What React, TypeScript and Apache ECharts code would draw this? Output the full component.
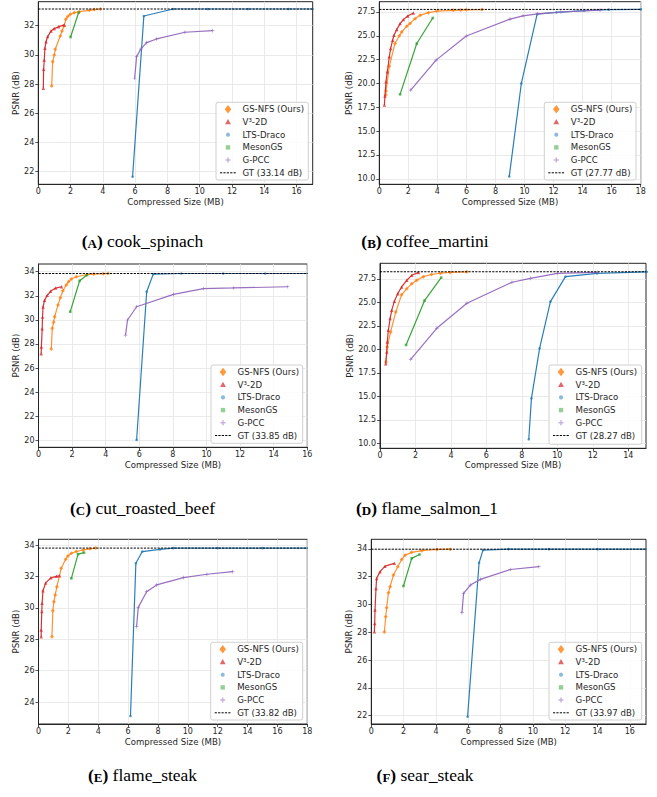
import React, { useEffect, useRef } from "react";
import * as echarts from "echarts";

type P = [number, number];

const SERIES_NAMES = ["GS-NFS (Ours)", "V³-2D", "LTS-Draco", "MesonGS", "G-PCC"];
const X_LABEL = "Compressed Size (MB)";
const Y_LABEL = "PSNR (dB)";

// (A) cook_spinach
const A_OURS: P[] = [[0.83, 27.87], [0.89, 29.53], [0.99, 29.99], [1.05, 30.38], [1.36, 31.29], [1.47, 31.64], [1.59, 31.98], [1.71, 32.44], [1.82, 32.62], [1.98, 32.78], [2.23, 32.89], [2.54, 32.96], [3.16, 33.05], [3.47, 33.1], [3.85, 33.14]];
const A_V3: P[] = [[0.31, 27.71], [0.33, 29.01], [0.37, 29.65], [0.41, 30.45], [0.48, 30.9], [0.58, 31.25], [0.79, 31.64], [0.99, 31.8], [1.26, 31.93], [1.61, 32.05]];
const A_LTS: P[] = [[5.84, 21.66], [6.54, 32.66], [8.36, 33.14], [10.5, 33.14], [13.0, 33.14], [15.5, 33.14], [18.0, 33.14]];
const A_MESON: P[] = [[2.0, 31.22], [2.5, 32.9]];
const A_GPCC: P[] = [[5.97, 28.4], [6.09, 29.88], [6.35, 30.4], [6.71, 30.84], [7.33, 31.09], [9.08, 31.55], [10.8, 31.66]];
const A_GT = 33.14;
const A_XTICKS = [0, 2, 4, 6, 8, 10, 12, 14, 16];
const A_YTICKS = [22, 24, 26, 28, 30, 32];

// (B) coffee_martini
const B_OURS: P[] = [[0.44, 18.8], [0.46, 19.2], [0.69, 21.8], [1.08, 24.2], [1.38, 25.0], [1.54, 25.4], [1.89, 26.0], [2.12, 26.3], [2.46, 26.8], [2.81, 27.15], [3.38, 27.43], [3.96, 27.6], [5.1, 27.67], [5.6, 27.7], [6.0, 27.73], [7.07, 27.75]];
const B_V3: P[] = [[0.35, 17.74], [0.39, 18.68], [0.46, 20.18], [0.55, 21.23], [0.69, 22.8], [0.78, 23.67], [0.92, 24.54], [1.01, 25.06], [1.2, 25.65], [1.43, 26.28], [1.66, 26.7], [1.96, 27.08], [2.35, 27.4]];
const B_LTS: P[] = [[8.95, 10.25], [9.78, 20.0], [10.87, 27.27], [12.2, 27.45], [14.1, 27.65], [15.8, 27.75], [18.0, 27.77], [19.5, 27.77]];
const B_MESON: P[] = [[1.43, 18.86], [2.58, 24.19], [3.68, 26.87]];
const B_GPCC: P[] = [[2.16, 19.31], [3.91, 22.45], [5.99, 24.98], [9.0, 26.75], [9.9, 27.1], [10.9, 27.3], [12.5, 27.5], [15.2, 27.7]];
const B_GT = 27.77;
const B_XTICKS = [0, 2, 4, 6, 8, 10, 12, 14, 16, 18];
const B_YTICKS = [10, 12.5, 15, 17.5, 20, 22.5, 25, 27.5];

// (C) cut_roasted_beef
const C_OURS: P[] = [[0.76, 27.58], [0.82, 29.3], [0.9, 29.8], [0.96, 30.26], [1.16, 31.23], [1.3, 31.84], [1.45, 32.42], [1.65, 32.9], [1.79, 33.17], [1.95, 33.39], [2.25, 33.58], [2.85, 33.75], [3.29, 33.8], [3.85, 33.84], [4.14, 33.85]];
const C_V3: P[] = [[0.16, 27.19], [0.17, 27.74], [0.22, 29.27], [0.24, 30.24], [0.27, 31.07], [0.36, 31.62], [0.52, 32.04], [0.72, 32.37], [1.02, 32.64], [1.37, 32.75]];
const C_LTS: P[] = [[5.84, 20.03], [6.44, 32.34], [6.83, 33.8], [8.5, 33.85], [11.0, 33.85], [13.5, 33.85], [16.5, 33.85]];
const C_MESON: P[] = [[1.89, 30.68], [2.45, 33.25], [2.89, 33.72]];
const C_GPCC: P[] = [[5.18, 28.74], [5.3, 29.99], [5.84, 31.09], [8.03, 32.12], [9.82, 32.6], [11.6, 32.65], [14.84, 32.75]];
const C_GT = 33.85;
const C_XTICKS = [0, 2, 4, 6, 8, 10, 12, 14, 16];
const C_YTICKS = [20, 22, 24, 26, 28, 30, 32, 34];

// (D) flame_salmon_1
const D_OURS: P[] = [[0.34, 18.66], [0.41, 20.26], [0.6, 21.86], [0.89, 23.99], [1.22, 25.83], [1.51, 26.47], [1.79, 27.0], [2.07, 27.36], [2.45, 27.75], [2.9, 27.98], [3.4, 28.12], [3.96, 28.2], [4.9, 28.26]];
const D_V3: P[] = [[0.32, 18.48], [0.38, 19.73], [0.41, 20.79], [0.47, 22.03], [0.57, 23.28], [0.66, 24.16], [0.81, 25.12], [1.0, 25.94], [1.22, 26.65], [1.51, 27.36], [1.79, 27.89], [2.17, 28.2]];
const D_LTS: P[] = [[8.39, 10.43], [8.54, 14.79], [9.0, 20.12], [9.61, 25.09], [10.46, 27.75], [12.25, 28.1], [15.0, 28.25], [16.5, 28.27]];
const D_MESON: P[] = [[1.47, 20.47], [2.51, 25.19], [3.45, 27.64]];
const D_GPCC: P[] = [[1.73, 18.94], [3.2, 22.25], [4.9, 24.91], [7.44, 27.15], [8.48, 27.57], [9.99, 28.1], [12.25, 28.21]];
const D_GT = 28.27;
const D_XTICKS = [0, 2, 4, 6, 8, 10, 12, 14];
const D_YTICKS = [10, 12.5, 15, 17.5, 20, 22.5, 25, 27.5];

// (E) flame_steak
const E_OURS: P[] = [[0.9, 28.17], [0.96, 29.83], [1.03, 30.4], [1.12, 30.83], [1.23, 31.36], [1.52, 32.53], [1.82, 33.11], [1.97, 33.32], [2.2, 33.49], [2.53, 33.6], [2.98, 33.7], [3.43, 33.77], [3.83, 33.82]];
const E_V3: P[] = [[0.18, 28.17], [0.18, 28.6], [0.22, 29.77], [0.24, 30.3], [0.3, 31.1], [0.48, 31.6], [0.83, 31.92], [1.2, 32.02], [1.41, 32.05]];
const E_LTS: P[] = [[6.16, 23.11], [6.52, 32.85], [6.95, 33.6], [8.14, 33.74], [9.03, 33.82], [12.0, 33.82], [15.0, 33.82], [18.5, 33.82]];
const E_MESON: P[] = [[2.2, 31.89], [2.65, 33.43], [3.05, 33.53]];
const E_GPCC: P[] = [[6.57, 28.81], [6.68, 30.04], [7.24, 31.04], [7.91, 31.47], [9.71, 31.94], [11.28, 32.15], [13.0, 32.32]];
const E_GT = 33.82;
const E_XTICKS = [0, 2, 4, 6, 8, 10, 12, 14, 16, 18];
const E_YTICKS = [24, 26, 28, 30, 32, 34];

// (F) sear_steak
const F_OURS: P[] = [[0.81, 28.01], [0.89, 29.11], [0.95, 29.76], [1.06, 30.84], [1.16, 31.27], [1.37, 32.11], [1.64, 32.71], [1.88, 33.23], [2.09, 33.54], [2.5, 33.74], [3.13, 33.86], [4.06, 33.95], [4.89, 33.97]];
const F_V3: P[] = [[0.19, 28.04], [0.21, 28.63], [0.23, 29.59], [0.29, 31.15], [0.33, 31.87], [0.54, 32.35], [0.85, 32.75], [1.43, 32.95]];
const F_LTS: P[] = [[5.96, 21.93], [6.67, 32.99], [6.91, 33.9], [8.5, 33.97], [11.0, 33.97], [14.0, 33.97], [17.5, 33.97]];
const F_MESON: P[] = [[1.99, 31.32], [2.5, 33.31], [2.98, 33.59]];
const F_GPCC: P[] = [[5.61, 29.4], [5.71, 30.79], [6.13, 31.39], [6.75, 31.8], [8.61, 32.51], [10.37, 32.71]];
const F_GT = 33.97;
const F_XTICKS = [0, 2, 4, 6, 8, 10, 12, 14, 16];
const F_YTICKS = [22, 24, 26, 28, 30, 32, 34];

const COLORS = ["#ff7f0e", "#d62728", "#1f77b4", "#2ca02c", "#9467bd"];
const PLUS = "path://M4,0H6V4H10V6H6V10H4V6H0V4H4Z";
const SYMBOLS = ["diamond", "triangle", "circle", "rect", PLUS];
const SYMBOL_SIZES = [4, 3.5, 2.6, 2.6, 3.6];
const FONT = "DejaVu Sans";
const SERIF = "Liberation Serif";
const INK = "#262626";

const PANELS = [
  { letter: "A", title: "cook_spinach", data: [A_OURS, A_V3, A_LTS, A_MESON, A_GPCC], gt: A_GT, xMax: 17, yMin: 21.14, yMax: 33.64, xTicks: A_XTICKS, yTicks: A_YTICKS, dec: 0,
    grid: { left: 38.3, top: 1.7, width: 274.4, height: 182.6 }, yNameGap: 15.5, xNameGap: 13, legend: [216, 102.3, 92.3, 77.7], caption: [142.5, 240.5] },
  { letter: "B", title: "coffee_martini", data: [B_OURS, B_V3, B_LTS, B_MESON, B_GPCC], gt: B_GT, xMax: 18, yMin: 9.42, yMax: 28.58, xTicks: B_XTICKS, yTicks: B_YTICKS, dec: 1,
    grid: { left: 379.3, top: 1.7, width: 261.4, height: 182.6 }, yNameGap: 24, xNameGap: 13, legend: [544.3, 102.3, 91.7, 77.7], caption: [425, 240.5] },
  { letter: "C", title: "cut_roasted_beef", data: [C_OURS, C_V3, C_LTS, C_MESON, C_GPCC], gt: C_GT, xMax: 16, yMin: 19.42, yMax: 34.64, xTicks: C_XTICKS, yTicks: C_YTICKS, dec: 0,
    grid: { left: 38.5, top: 264, width: 268.8, height: 183.3 }, yNameGap: 16.5, xNameGap: 13, legend: [211, 365, 91.7, 78.3], caption: [142.5, 508] },
  { letter: "D", title: "flame_salmon_1", data: [D_OURS, D_V3, D_LTS, D_MESON, D_GPCC], gt: D_GT, xMax: 15, yMin: 9.47, yMax: 29.17, xTicks: D_XTICKS, yTicks: D_YTICKS, dec: 1,
    grid: { left: 380, top: 263.3, width: 266, height: 185 }, yNameGap: 23.5, xNameGap: 12, legend: [549, 365, 92.7, 79.3], caption: [427, 508] },
  { letter: "E", title: "flame_steak", data: [E_OURS, E_V3, E_LTS, E_MESON, E_GPCC], gt: E_GT, xMax: 18, yMin: 22.6, yMax: 34.38, xTicks: E_XTICKS, yTicks: E_YTICKS, dec: 0,
    grid: { left: 38.5, top: 539.3, width: 268.8, height: 184.7 }, yNameGap: 16.5, xNameGap: 13, legend: [210.7, 642.3, 92, 77.7], caption: [142.5, 775] },
  { letter: "F", title: "sear_steak", data: [F_OURS, F_V3, F_LTS, F_MESON, F_GPCC], gt: F_GT, xMax: 17, yMin: 21.4, yMax: 34.68, xTicks: F_XTICKS, yTicks: F_YTICKS, dec: 0,
    grid: { left: 371.3, top: 539.3, width: 274.7, height: 184.7 }, yNameGap: 15, xNameGap: 13, legend: [549, 642.3, 92.7, 77.7], caption: [425, 775] },
];

function legendElements(bx: number, by: number, bw: number, bh: number, gt: number): any[] {
  const els: any[] = [];
  const Z = 50;
  els.push({ type: "rect", z: Z, shape: { x: bx, y: by, width: bw, height: bh, r: 2 }, style: { fill: "rgba(255,255,255,0.85)", stroke: "#d0d0d0", lineWidth: 1 } });
  const labels = [...SERIES_NAMES, `GT (${gt.toFixed(2)} dB)`];
  labels.forEach((lab, i) => {
    const cy = by + 7 + i * 12.7;
    const cx = bx + 12;
    if (i === 0) {
      els.push({ type: "polygon", z: Z + 1, shape: { points: [[cx, cy - 4.2], [cx + 3.3, cy], [cx, cy + 4.2], [cx - 3.3, cy]] }, style: { fill: COLORS[0], opacity: 0.8 } });
    } else if (i === 1) {
      els.push({ type: "polygon", z: Z + 1, shape: { points: [[cx, cy - 2.9], [cx + 2.9, cy + 2.3], [cx - 2.9, cy + 2.3]] }, style: { fill: COLORS[1], opacity: 0.7 } });
    } else if (i === 2) {
      els.push({ type: "circle", z: Z + 1, shape: { cx, cy, r: 2.1 }, style: { fill: COLORS[2], opacity: 0.5 } });
    } else if (i === 3) {
      els.push({ type: "rect", z: Z + 1, shape: { x: cx - 2.2, y: cy - 2.2, width: 4.4, height: 4.4 }, style: { fill: COLORS[3], opacity: 0.5 } });
    } else if (i === 4) {
      const a = 2.5, t = 0.75;
      els.push({ type: "polygon", z: Z + 1, shape: { points: [[cx - t, cy - a], [cx + t, cy - a], [cx + t, cy - t], [cx + a, cy - t], [cx + a, cy + t], [cx + t, cy + t], [cx + t, cy + a], [cx - t, cy + a], [cx - t, cy + t], [cx - a, cy + t], [cx - a, cy - t], [cx - t, cy - t]] }, style: { fill: COLORS[4], opacity: 0.5 } });
    } else {
      els.push({ type: "line", z: Z + 1, shape: { x1: bx + 4, y1: cy, x2: bx + 20.7, y2: cy }, style: { stroke: "#000", lineWidth: 1, lineDash: [2.2, 1.2] } });
    }
    els.push({ type: "text", z: Z + 1, x: bx + 26.5, y: cy, style: { text: lab, fill: INK, fontSize: 8.6, fontFamily: FONT, align: "left", verticalAlign: "middle" } });
  });
  return els;
}

export default function App() {
  const ref = useRef<HTMLDivElement>(null);
  useEffect(() => {
    if (!ref.current) return;
    const chart = echarts.init(ref.current, null, { renderer: "svg" });
    const grid: any[] = [];
    const xAxis: any[] = [];
    const yAxis: any[] = [];
    const series: any[] = [];
    const graphics: any[] = [];
    PANELS.forEach((p, i) => {
      grid.push({ ...p.grid, show: true, borderColor: INK, borderWidth: 1, backgroundColor: "transparent", containLabel: false });
      xAxis.push({
        gridIndex: i, type: "value", min: 0, max: p.xMax,
        name: X_LABEL, nameLocation: "middle", nameGap: p.xNameGap,
        nameTextStyle: { fontSize: 8.6, color: INK, fontFamily: FONT },
        axisLine: { show: true, onZero: false, lineStyle: { color: INK, width: 1 } },
        axisTick: { show: true, length: 3, customValues: p.xTicks, lineStyle: { color: INK, width: 0.8 } },
        axisLabel: { customValues: p.xTicks, fontSize: 8, color: INK, margin: 3, fontFamily: FONT },
        splitLine: { show: true, lineStyle: { color: "#e4e4e4", width: 0.8 } },
      });
      yAxis.push({
        gridIndex: i, type: "value", min: p.yMin, max: p.yMax,
        name: Y_LABEL, nameLocation: "middle", nameGap: p.yNameGap,
        nameTextStyle: { fontSize: 8.6, color: INK, fontFamily: FONT },
        axisLine: { show: true, onZero: false, lineStyle: { color: INK, width: 1 } },
        axisTick: { show: true, length: 3, customValues: p.yTicks, lineStyle: { color: INK, width: 0.8 } },
        axisLabel: { customValues: p.yTicks, fontSize: 8, color: INK, margin: 4, fontFamily: FONT, formatter: (v: number) => v.toFixed(p.dec) },
        splitLine: { show: true, lineStyle: { color: "#e4e4e4", width: 0.8 } },
      });
      p.data.forEach((d, k) => {
        series.push({
          type: "line", name: SERIES_NAMES[k], xAxisIndex: i, yAxisIndex: i, data: d,
          symbol: SYMBOLS[k], symbolSize: SYMBOL_SIZES[k], showSymbol: true, clip: true, silent: true,
          lineStyle: { color: COLORS[k], width: 1.2, opacity: k === 0 ? 0.85 : 0.95 },
          itemStyle: { color: COLORS[k], opacity: 0.75 },
          z: 2 + k * 0.1,
        });
      });
      series.push({
        type: "line", name: `GT (${p.gt.toFixed(2)} dB)`, xAxisIndex: i, yAxisIndex: i,
        data: [[0, p.gt], [p.xMax, p.gt]], symbol: "none", silent: true, clip: true,
        lineStyle: { color: "#000", width: 1, type: [2.2, 1.2] }, z: 4,
      });
      const [bx, by, bw, bh] = p.legend;
      graphics.push(...legendElements(bx, by, bw, bh, p.gt));
      graphics.push({
        type: "text", z: 50, x: p.caption[0], y: p.caption[1],
        style: {
          text: `{b|(}{s|${p.letter}}{b|)}{n| ${p.title}}`,
          align: "center", verticalAlign: "middle", fill: "#000",
          rich: {
            b: { fontSize: 17.5, fontWeight: "bold", fontFamily: SERIF, verticalAlign: "bottom" },
            s: { fontSize: 13, fontWeight: "bold", fontFamily: SERIF, verticalAlign: "bottom" },
            n: { fontSize: 17.5, fontFamily: SERIF, verticalAlign: "bottom" },
          },
        },
      });
    });
    chart.setOption({
      animation: false,
      backgroundColor: "#ffffff",
      grid, xAxis, yAxis, series,
      graphic: { elements: graphics },
    });
    return () => chart.dispose();
  }, []);
  return <div ref={ref} style={{ position: "absolute", left: 0, top: 0, width: 657, height: 797 }} />;
}
